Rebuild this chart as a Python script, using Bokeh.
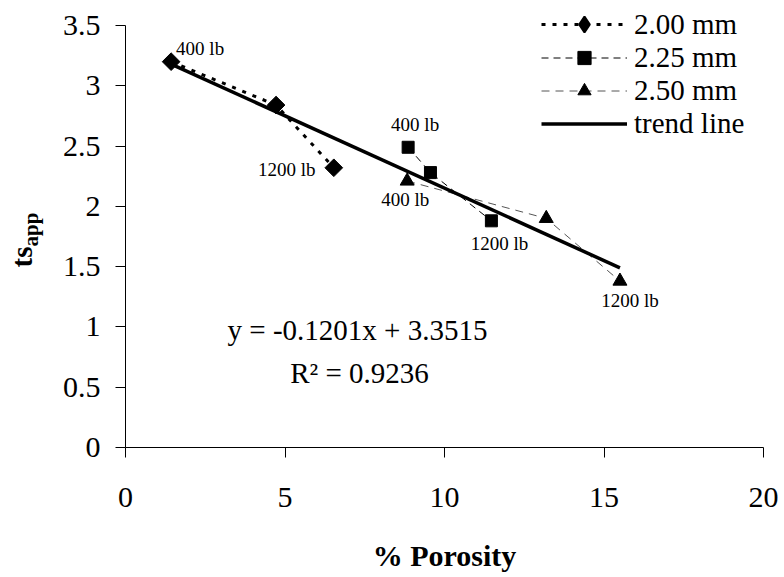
import math
from bokeh.plotting import figure
from bokeh.models import (Range1d, FixedTicker, CustomJSTickFormatter, Label, LinearAxis,
                          Legend, LegendItem, ColumnDataSource)
from bokeh.embed import file_html
from bokeh.resources import INLINE
from bokeh.core.properties import value

# ---- data ----
porosity_200 = [1.43, 4.72, 6.53]
ts_200 = [3.20, 2.84, 2.32]
porosity_225 = [8.86, 9.56, 11.47]
ts_225 = [2.49, 2.28, 1.88]
porosity_250 = [8.83, 13.19, 15.50]
ts_250 = [2.21, 1.90, 1.38]
trend_x = [1.43, 15.50]
trend_y = [3.18, 1.49]
series_names = ["2.00 mm", "2.25 mm", "2.50 mm", "trend line"]
load_labels = ["400 lb", "1200 lb"]
x_ticks = [0, 5, 10, 15, 20]
y_ticks = [0, 0.5, 1, 1.5, 2, 2.5, 3, 3.5]
equation_text = "y = -0.1201x + 3.3515"
r2_text = "R\u00b2 = 0.9236"

FONT = "Liberation Serif"
W, H = 784, 577
# frame covers the whole canvas; axes are pinned at 0 with fixed_location
KX = 638 / 20.0      # px per x unit
KY = 422 / 3.5       # px per y unit
X0, Y0 = 125, 447    # pixel position of the origin

p = figure(width=W, height=H,
           x_range=Range1d(-X0 / KX, (W - X0) / KX),
           y_range=Range1d(-(H - Y0) / KY, Y0 / KY),
           x_axis_location=None, y_axis_location=None,
           output_backend="svg", toolbar_location=None, min_border=0)
p.title.visible = False
p.outline_line_color = None
p.grid.visible = False
p.background_fill_color = "white"
p.border_fill_color = "white"

xaxis = LinearAxis(fixed_location=0, bounds=(0, 20), ticker=FixedTicker(ticks=x_ticks),
                   major_label_standoff=30)
yaxis = LinearAxis(fixed_location=0, bounds=(0, 3.5), ticker=FixedTicker(ticks=y_ticks),
                   major_label_standoff=15)
for ax in (xaxis, yaxis):
    ax.formatter = CustomJSTickFormatter(code="return tick.toString();")
    ax.minor_tick_line_color = None
    ax.major_tick_in = 0
    ax.major_tick_out = 10
    ax.axis_line_color = "black"
    ax.major_tick_line_color = "black"
    ax.major_label_text_font = FONT
    ax.major_label_text_font_size = "30px"
    ax.major_label_text_color = "black"
p.add_layout(xaxis, "below")
p.add_layout(yaxis, "left")

# series
l1 = p.line(porosity_200, ts_200, line_color="black", line_width=3, line_dash="4 7")
s1 = p.scatter(porosity_200, ts_200, marker="square", size=12.5, angle=math.pi / 4, color="black")
# legend proxy for the diamond (not drawn in the plot area)
s1_leg = p.scatter([float("nan")], [float("nan")], marker="diamond", size=19,
                   fill_color="black", line_color="black", line_width=2)
l2 = p.line(porosity_225, ts_225, line_color="black", line_width=1, line_dash="7 5")
s2 = p.scatter(porosity_225, ts_225, marker="square", size=12, color="black")
l3 = p.line(porosity_250, ts_250, line_color="#555555", line_width=1, line_dash="8 6")
s3 = p.scatter(porosity_250, ts_250, marker="triangle", size=14, color="black")
lt = p.line(trend_x, trend_y, line_color="black", line_width=3.5)

# load annotations
lab_src = ColumnDataSource(dict(
    x=[porosity_200[0], porosity_200[2], porosity_225[0], porosity_250[0], porosity_225[2], porosity_250[2]],
    y=[ts_200[0], ts_200[2], ts_225[0], ts_250[0], ts_225[2], ts_250[2]],
    text=[load_labels[0], load_labels[1], load_labels[0], load_labels[0], load_labels[1], load_labels[1]],
    xo=[29, -47, 7, -2, 8, 10],
    yo=[-13, 2, -23, 18, 23, 19],
))
p.text(x="x", y="y", text="text", x_offset="xo", y_offset="yo", source=lab_src,
       text_font=value(FONT), text_font_size="19px", text_align="center",
       text_baseline="middle", text_color="black")

def px_to_x(px):
    return (px - X0) / KX

def px_to_y(py):
    return (Y0 - py) / KY

# equation labels
p.add_layout(Label(x=px_to_x(357), y=px_to_y(329), text=equation_text, text_font=FONT,
                   text_font_size="29px", text_align="center", text_baseline="alphabetic",
                   text_color="black"))
p.add_layout(Label(x=px_to_x(359), y=px_to_y(372), text=r2_text, text_font=FONT,
                   text_font_size="29px", text_align="center", text_baseline="alphabetic",
                   text_color="black"))

# axis titles
p.add_layout(Label(x=px_to_x(444), y=px_to_y(555), text="% Porosity", text_font=FONT,
                   text_font_size="30px", text_font_style="bold", text_align="center",
                   text_baseline="alphabetic", text_color="black"))
p.add_layout(Label(x=px_to_x(21), y=px_to_y(267), text="ts", text_font=FONT,
                   text_font_size="29px", text_font_style="bold", angle=math.pi / 2,
                   text_align="left", text_baseline="alphabetic", text_color="black"))
p.add_layout(Label(x=px_to_x(30), y=px_to_y(246), text="app", text_font=FONT,
                   text_font_size="21px", text_font_style="bold", angle=math.pi / 2,
                   text_align="left", text_baseline="alphabetic", text_color="black"))

# legend: one row per Legend so each row can be placed like the reference
legend_rows = [([l1, s1_leg], 24, 40), ([l2, s2], 57, 33), ([l3, s3], 90, 33), ([lt], 123, 33)]
for (rends, cy, gh), name in zip(legend_rows, series_names):
    leg = Legend(items=[LegendItem(label=name, renderers=rends)],
                 location=(541, H - cy - gh / 2), glyph_width=86, glyph_height=gh,
                 label_height=gh, label_standoff=7, padding=0, spacing=0, margin=0,
                 border_line_color=None, background_fill_alpha=0,
                 label_text_font=FONT, label_text_font_size="29px", label_text_color="black")
    p.add_layout(leg)

open("out.html", "w").write(file_html(p, INLINE))
